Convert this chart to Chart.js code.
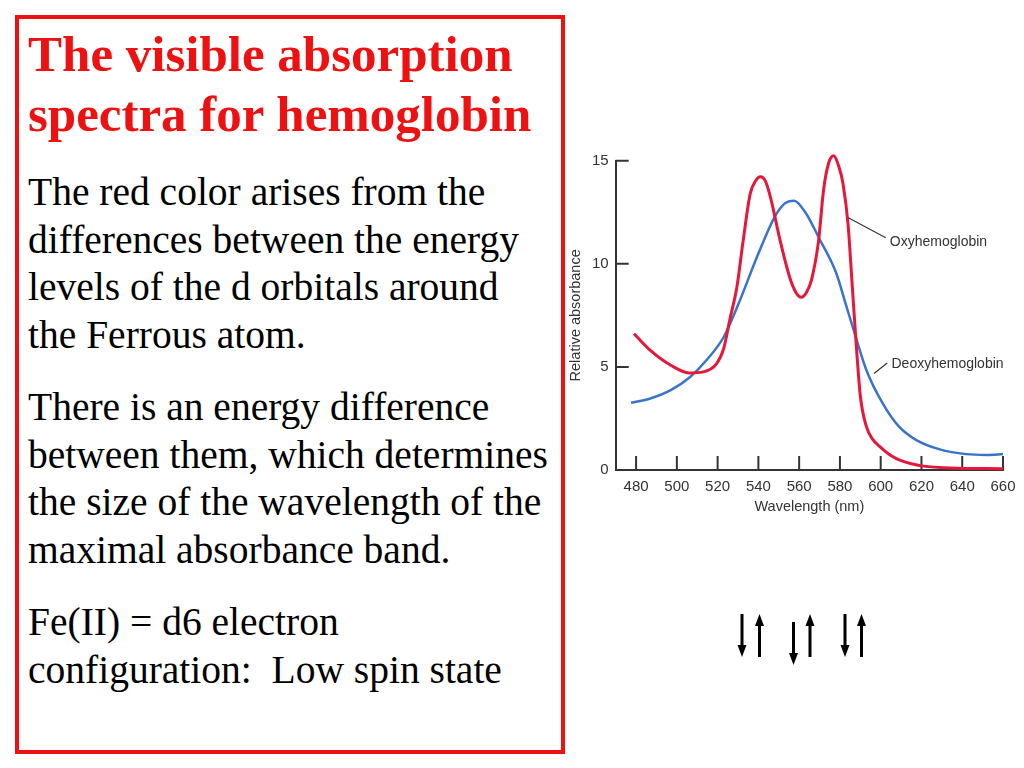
<!DOCTYPE html>
<html>
<head>
<meta charset="utf-8">
<script src="https://cdn.jsdelivr.net/npm/chart.js@4.4.1/dist/chart.umd.min.js"></script>
<style>
    html, body { margin: 0; padding: 0; background: #fff; }
    #slide { position: relative; width: 1024px; height: 768px; overflow: hidden; }
    #box {
        position: absolute; left: 15px; top: 15px; width: 542px; height: 731px;
        border: 4px solid #ee1111;
    }
    .txt {
        position: absolute; left: 28px; white-space: nowrap;
        font-family: "Times New Roman", "Liberation Serif", serif;
    }
    .title { top: 24px; font-size: 51px; line-height: 60px; font-weight: bold; color: #ee1111; }
    .body { font-size: 39.5px; line-height: 47.5px; color: #000; }
    #chartWrap { position: absolute; left: 565px; top: 140px; width: 459px; height: 380px; }
    #arrows { position: absolute; left: 0; top: 0; }
</style>
</head>
<body>
<div id="slide">
    <div id="box"></div>
    <div class="txt title">The visible absorption<br>spectra for hemoglobin</div>
    <div class="txt body" style="top:169px">The red color arises from the<br>differences between the energy<br>levels of the d orbitals around<br>the Ferrous atom.</div>
    <div class="txt body" style="top:384px">There is an energy difference<br>between them, which determines<br>the size of the wavelength of the<br>maximal absorbance band.</div>
    <div class="txt body" style="top:599px">Fe(II) = d6 electron<br>configuration:&nbsp; Low spin state</div>

    <div id="chartWrap"><canvas id="spectraChart"></canvas></div>

    <svg id="arrows" width="1024" height="768">
        <g fill="#000">
            <!-- pair 1 -->
            <rect x="740.5" y="614" width="3" height="32"/><polygon points="737.5,645 746.5,645 742,657"/>
            <rect x="758" y="625" width="3" height="32"/><polygon points="755,626 764,626 759.5,614"/>
            <!-- pair 2 -->
            <rect x="792" y="622" width="3" height="32"/><polygon points="789,653 798,653 793.5,665"/>
            <rect x="808.5" y="625" width="3" height="32"/><polygon points="805.5,626 814.5,626 810,614"/>
            <!-- pair 3 -->
            <rect x="843.5" y="614" width="3" height="32"/><polygon points="840.5,645 849.5,645 845,657"/>
            <rect x="860" y="625" width="3" height="32"/><polygon points="857,626 866,626 861.5,614"/>
        </g>
    </svg>
</div>

<script>
// ================= DATA =================
const wavelengthTicks = [480, 500, 520, 540, 560, 580, 600, 620, 640, 660];
const absorbanceTicks = [0, 5, 10, 15];

// Oxyhemoglobin (red)
const oxyWavelength = [479, 487, 497, 506, 513, 519.5, 523, 526, 529.5, 532.5, 536, 538.5, 541, 543.5, 546, 550.5,
    555.5, 558.5, 561, 563.5, 566, 569.5, 572, 574.5, 577, 579.5, 581.5, 584, 586, 587.5, 590, 593, 596, 600, 605, 610, 620, 634, 660];
const oxyAbsorbance = [6.61, 5.8, 5.08, 4.71, 4.76, 5.16, 5.9, 7.3, 8.9, 11.1, 13.4, 14.0, 14.22, 14.0, 13.2, 11.2,
    9.3, 8.6, 8.38, 8.6, 9.2, 11.1, 13.6, 14.9, 15.24, 14.7, 13.9, 11.9, 9.0, 6.8, 3.6, 2.1, 1.5, 1.1, 0.7, 0.45, 0.2, 0.1, 0.06];

// Deoxyhemoglobin (blue)
const deoxyWavelength = [477.5, 487, 497, 506.5, 514.5, 523, 530, 540, 548, 553, 557.5, 563, 570, 578, 583, 587,
    593, 601, 609, 617.5, 629, 642, 652, 660];
const deoxyAbsorbance = [3.26, 3.47, 3.87, 4.51, 5.32, 6.45, 8.0, 10.5, 12.28, 12.93, 13.06, 12.5, 11.2, 9.6, 8.0, 6.7,
    4.84, 3.23, 2.1, 1.45, 1.0, 0.77, 0.73, 0.77];

const seriesNames = ["Oxyhemoglobin", "Deoxyhemoglobin"];

// ================= HELPERS =================
const toPoints = (xs, ys) => xs.map((x, i) => ({ x: x, y: ys[i] }));

// inward tick marks like the textbook figure
const innerTicks = {
    id: "innerTicks",
    beforeDatasetsDraw(chart) {
        const { ctx, chartArea, scales: { x, y } } = chart;
        ctx.save();
        ctx.strokeStyle = "#333";
        ctx.lineWidth = 2;
        ctx.beginPath();
        x.ticks.forEach(t => {
            const px = x.getPixelForValue(t.value);
            ctx.moveTo(px, chartArea.bottom);
            ctx.lineTo(px, chartArea.bottom - 14);
        });
        y.ticks.forEach(t => {
            if (t.value === 0) return;
            const py = y.getPixelForValue(t.value);
            ctx.moveTo(chartArea.left, py);
            ctx.lineTo(chartArea.left + 13, py);
        });
        ctx.stroke();
        ctx.restore();
    }
};

// curve labels with leader lines (anchors in data units)
const callouts = [
    { text: seriesNames[0], from: [584.1, 12.23], to: [602.5, 11.26], at: [604.5, 11.05] },
    { text: seriesNames[1], from: [596.7, 4.68], to: [603.2, 5.19], at: [605.3, 5.11] }
];
const curveLabels = {
    id: "curveLabels",
    afterDatasetsDraw(chart) {
        const { ctx, scales: { x, y } } = chart;
        ctx.save();
        ctx.strokeStyle = "#333";
        ctx.fillStyle = "#333";
        ctx.lineWidth = 1.2;
        ctx.font = "14px 'Liberation Sans', Arial, sans-serif";
        ctx.textBaseline = "middle";
        callouts.forEach(c => {
            ctx.beginPath();
            ctx.moveTo(x.getPixelForValue(c.from[0]), y.getPixelForValue(c.from[1]));
            ctx.lineTo(x.getPixelForValue(c.to[0]), y.getPixelForValue(c.to[1]));
            ctx.stroke();
            ctx.fillText(c.text, x.getPixelForValue(c.at[0]), y.getPixelForValue(c.at[1]));
        });
        ctx.restore();
    }
};

// ================= CHART =================
Chart.defaults.font.family = "'Liberation Sans', Arial, sans-serif";

new Chart(document.getElementById("spectraChart"), {
    type: "line",
    data: {
        datasets: [{
            label: seriesNames[0],
            data: toPoints(oxyWavelength, oxyAbsorbance),
            borderColor: "#e5173b",
            borderWidth: 3,
            pointRadius: 0,
            cubicInterpolationMode: "monotone",
            clip: false
        }, {
            label: seriesNames[1],
            data: toPoints(deoxyWavelength, deoxyAbsorbance),
            borderColor: "#3a74c8",
            borderWidth: 2.5,
            pointRadius: 0,
            cubicInterpolationMode: "monotone",
            clip: false
        }]
    },
    options: {
        responsive: true,
        maintainAspectRatio: false,
        animation: false,
        layout: { padding: { top: 20.7, right: 21, left: 0, bottom: 0 } },
        plugins: {
            legend: { display: false },
            tooltip: { enabled: false }
        },
        scales: {
            x: {
                type: "linear",
                min: 470,
                max: 660,
                afterBuildTicks: s => { s.ticks = wavelengthTicks.map(v => ({ value: v })); },
                afterFit: s => { s.height = 50; },
                grid: { display: false, drawTicks: false },
                border: { color: "#333", width: 2 },
                ticks: { color: "#333", font: { size: 15 }, padding: 8, maxRotation: 0, autoSkip: false },
                title: { display: true, text: "Wavelength (nm)", color: "#333", font: { size: 14.5 }, padding: { top: 0, bottom: 4 } }
            },
            y: {
                min: 0,
                max: 15,
                afterBuildTicks: s => { s.ticks = absorbanceTicks.map(v => ({ value: v })); },
                afterFit: s => { s.width = 50.7; },
                grid: { display: false, drawTicks: false },
                border: { color: "#333", width: 2 },
                ticks: { color: "#333", font: { size: 15 }, padding: 7 },
                title: { display: true, text: "Relative absorbance", color: "#333", font: { size: 14.5 }, padding: { top: 2.4, bottom: 0 } }
            }
        }
    },
    plugins: [innerTicks, curveLabels]
});
</script>
</body>
</html>
